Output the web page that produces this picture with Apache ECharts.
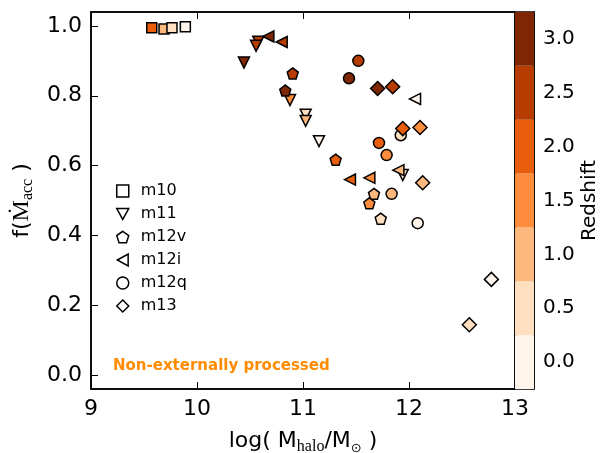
<!DOCTYPE html>
<html>
<head>
<meta charset="utf-8">
<script src="https://cdn.jsdelivr.net/npm/echarts@6/dist/echarts.min.js"></script>
<style>
  html, body { margin: 0; padding: 0; background: #fff; }
  #chart { width: 603px; height: 453px; }
</style>
</head>
<body>
<div id="chart"></div>
<script>
// Each point: [log10 halo mass, accreted fraction, redshift]
const m10  = [[9.573, 0.995, 2.0], [9.689, 0.991, 1.0], [9.764, 0.995, 0.5], [9.890, 0.998, 0.0]];
const m11  = [[10.578, 0.955, 2.5], [10.443, 0.895, 3.0], [10.557, 0.943, 2.5], [10.877, 0.788, 1.5],
              [11.025, 0.746, 0.5], [11.025, 0.728, 1.0], [11.151, 0.670, 0.0], [11.941, 0.573, 0.5]];
const m12v = [[10.833, 0.815, 3.0], [10.903, 0.864, 2.5], [11.308, 0.617, 2.0], [11.670, 0.519, 1.0],
              [11.626, 0.492, 1.5], [11.733, 0.448, 0.5]];
const m12i = [[10.673, 0.970, 3.0], [10.799, 0.954, 2.5], [11.443, 0.560, 2.0], [11.626, 0.565, 1.5],
              [11.900, 0.587, 1.0], [12.057, 0.791, 0.0]];
const m12q = [[11.434, 0.850, 3.0], [11.522, 0.900, 2.5], [11.717, 0.665, 2.0], [11.789, 0.630, 1.5],
              [11.836, 0.519, 1.0], [11.922, 0.687, 0.5], [12.082, 0.435, 0.0]];
const m13  = [[11.704, 0.821, 3.0], [11.846, 0.826, 2.5], [11.941, 0.706, 2.0], [12.104, 0.709, 1.5],
              [12.129, 0.551, 1.0], [12.569, 0.144, 0.5], [12.777, 0.274, 0.0]];

// Discrete redshift levels of the colour bar and their colours
const zLevels = [0.0, 0.5, 1.0, 1.5, 2.0, 2.5, 3.0];
const zLabels = ['0.0', '0.5', '1.0', '1.5', '2.0', '2.5', '3.0'];
const zColors = ['#fff5eb', '#fedfbf', '#fdb97d', '#fd8d3c', '#e95e0d', '#b73c02', '#7f2704'];

const FONT = 'DejaVu Sans';
const SERIF = 'Liberation Serif';
const PENTAGON = 'path://M0,-1L0.951,-0.309L0.588,0.809L-0.588,0.809L-0.951,-0.309Z';
const TRI_DOWN = 'path://M0,0L10,0L5,9Z';
const TRI_LEFT = 'path://M0,5L9,0L9,10Z';

const sims = [
  { name: 'm10',  data: m10,  symbol: 'rect',   size: 10 },
  { name: 'm11',  data: m11,  symbol: TRI_DOWN, size: 11 },
  { name: 'm12v', data: m12v, symbol: PENTAGON, size: 11 },
  { name: 'm12i', data: m12i, symbol: TRI_LEFT, size: 11 },
  { name: 'm12q', data: m12q, symbol: 'circle', size: 11 },
  { name: 'm13',  data: m13,  symbol: 'diamond', size: 14 }
];

const scatterSeries = sims.map(s => ({
  name: s.name,
  type: 'scatter',
  xAxisIndex: 0,
  yAxisIndex: 0,
  data: s.data,
  symbol: s.symbol,
  symbolSize: s.size,
  itemStyle: { borderColor: '#000', borderWidth: 1.5, opacity: 1 },
  emphasis: { disabled: true },
  z: 3
}));

const colorbarSeries = {
  type: 'bar',
  xAxisIndex: 2,
  yAxisIndex: 2,
  data: zLevels.map((z, i) => [1, i, z]),
  encode: { x: 0, y: 1 },
  barCategoryGap: '0%',
  silent: true,
  z: 1
};

const tickFont = { fontFamily: FONT, fontSize: 22, color: '#000' };
const blackLine = { show: true, onZero: false, lineStyle: { color: '#000', width: 1.5 } };
const inTick = { inside: true, length: 7, lineStyle: { color: '#000', width: 1 } };

const chart = echarts.init(document.getElementById('chart'), null, { renderer: 'canvas' });
chart.setOption({
  animation: false,
  backgroundColor: '#fff',
  grid: [
    { left: 91, top: 12, width: 424, height: 377, show: true, borderColor: '#000', borderWidth: 1.5,
      containLabel: false, outerBoundsMode: 'none' },
    { left: 515, top: 12, width: 19, height: 377, show: true, borderColor: '#000', borderWidth: 1.5,
      containLabel: false, outerBoundsMode: 'none' }
  ],
  xAxis: [
    {
      gridIndex: 0, type: 'value', min: 9, max: 13, interval: 1, position: 'bottom',
      axisLine: blackLine,
      axisTick: inTick,
      axisLabel: Object.assign({ margin: 9 }, tickFont),
      splitLine: { show: false },
      name: '{n|log( M}{s|halo}{n|/M}{o|⊙}{n| )}',
      nameLocation: 'middle',
      nameGap: 38,
      nameTextStyle: {
        rich: {
          n: { fontFamily: FONT, fontSize: 22, color: '#000', lineHeight: 28 },
          s: { fontFamily: SERIF, fontSize: 16, color: '#000', verticalAlign: 'bottom', lineHeight: 16 },
          o: { fontFamily: FONT, fontSize: 13, color: '#000', verticalAlign: 'bottom', lineHeight: 13 }
        }
      }
    },
    {
      gridIndex: 0, type: 'value', min: 9, max: 13, interval: 1, position: 'top',
      axisLine: blackLine,
      axisTick: inTick,
      axisLabel: { show: false },
      splitLine: { show: false }
    },
    {
      gridIndex: 1, type: 'value', min: 0, max: 1, show: false
    }
  ],
  yAxis: [
    {
      gridIndex: 0, type: 'value', min: -0.04, max: 1.04,
      axisLine: blackLine,
      axisTick: inTick,
      axisLabel: Object.assign({
        margin: 9, showMinLabel: false, showMaxLabel: false,
        formatter: v => v.toFixed(1)
      }, tickFont),
      splitLine: { show: false },
      name: '{n|f(}{m|Ṁ}{s|acc}{n| )}',
      nameLocation: 'middle',
      nameRotate: 90,
      nameGap: 54,
      nameTextStyle: {
        rich: {
          n: { fontFamily: FONT, fontSize: 22, color: '#000', lineHeight: 28 },
          m: { fontFamily: SERIF, fontSize: 24, color: '#000', lineHeight: 28 },
          s: { fontFamily: SERIF, fontSize: 16, color: '#000', verticalAlign: 'bottom', lineHeight: 16 }
        }
      }
    },
    {
      gridIndex: 1, type: 'value', min: -0.04, max: 1.04, show: false
    },
    {
      gridIndex: 1, type: 'category', data: zLabels, position: 'right',
      boundaryGap: true,
      axisLine: blackLine,
      axisTick: { inside: true, length: 4, alignWithLabel: true, lineStyle: { color: '#000', width: 1 } },
      axisLabel: Object.assign({ margin: 9 }, tickFont, { fontSize: 20 }),
      splitLine: { show: false },
      name: 'Redshift',
      nameLocation: 'middle',
      nameRotate: 90,
      nameGap: 46,
      nameTextStyle: { fontFamily: FONT, fontSize: 20, color: '#000' }
    }
  ],
  visualMap: {
    type: 'piecewise',
    show: false,
    dimension: 2,
    seriesIndex: [0, 1, 2, 3, 4, 5, 6],
    pieces: zLevels.map((z, i) => ({ gte: z - 0.25, lt: z + 0.25, color: zColors[i] }))
  },
  legend: {
    orient: 'vertical',
    left: 111,
    top: 178,
    itemWidth: 12,
    itemHeight: 12,
    itemGap: 7,
    data: sims.map(s => s.name),
    itemStyle: { color: '#fff', borderColor: '#000', borderWidth: 1.5 },
    textStyle: { fontFamily: FONT, fontSize: 16, color: '#000', lineHeight: 16, padding: [0, 0, 0, 7] },
    selectedMode: false
  },
  graphic: [
    {
      type: 'text',
      left: 113,
      top: 359,
      style: { text: 'Non-externally processed', fill: '#ff8c00', font: 'bold 15px "DejaVu Sans"' }
    }
  ],
  series: scatterSeries.concat([colorbarSeries])
});
</script>
</body>
</html>
